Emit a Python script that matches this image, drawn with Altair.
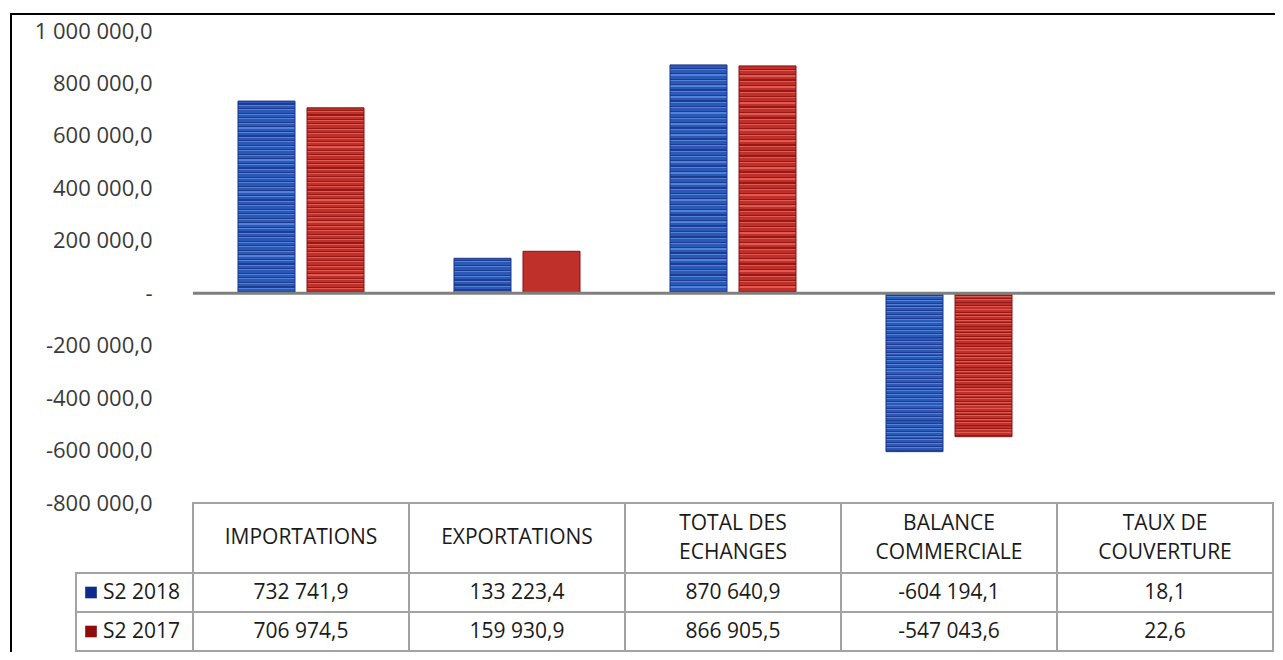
import altair as alt
import pandas as pd

# ---------------- data ----------------
categories = ["IMPORTATIONS", "EXPORTATIONS", "TOTAL DES ECHANGES",
              "BALANCE COMMERCIALE", "TAUX DE COUVERTURE"]
header_labels = ["IMPORTATIONS", "EXPORTATIONS", "TOTAL DES\nECHANGES",
                 "BALANCE\nCOMMERCIALE", "TAUX DE\nCOUVERTURE"]
series_names = ["S2 2018", "S2 2017"]
values_2018 = [732741.9, 133223.4, 870640.9, -604194.1, 18.1]
values_2017 = [706974.5, 159930.9, 866905.5, -547043.6, 22.6]
y_ticks = [-800000, -600000, -400000, -200000, 0, 200000, 400000, 600000, 800000, 1000000]

rows = []
for s, vals in zip(series_names, [values_2018, values_2017]):
    for c, v in zip(categories, vals):
        rows.append({"category": c, "series": s, "value": v})
df = pd.DataFrame(rows)
hdr = pd.DataFrame({"category": categories, "label": header_labels})
ser = pd.DataFrame({"series": series_names})
one = pd.DataFrame({"z": [0]})

# ---------------- layout / style ----------------
W, H = 1265, 639
X_RANGE = [183, 1263]
Y_RANGE = [490, 18]
HDR_TOP, HDR_BOT, HDR_MID = 490, 560, 525
LINE_H = 29
BODY = [560, 638]
FONT = "Open Sans"
TXT = "#1a1a1a"
GRID = "#a3a3a3"
FS = 21


def stripes(mid, dark, light, n=42):
    stops = []
    for i in range(n):
        stops += [
            {"offset": round(i / n, 5), "color": mid},
            {"offset": round((i + 0.5) / n, 5), "color": mid},
            {"offset": round((i + 0.5) / n, 5), "color": dark},
            {"offset": round((i + 0.75) / n, 5), "color": dark},
            {"offset": round((i + 0.75) / n, 5), "color": light},
            {"offset": round((i + 1) / n, 5), "color": light},
        ]
    return {"gradient": "linear", "x1": 0, "y1": 0, "x2": 0, "y2": 1, "stops": stops}


blue_fill = stripes("#2c58b8", "#1e3d92", "#5083d6")
red_fill = stripes("#c0302b", "#951a16", "#e05a52")

x_enc = alt.X("category:N",
              scale=alt.Scale(domain=categories, range=X_RANGE,
                              paddingInner=0, paddingOuter=0),
              axis=None)
xoff = alt.XOffset("series:N",
                   scale=alt.Scale(domain=series_names,
                                   paddingInner=0.1739, paddingOuter=0.652))
y_scale = alt.Scale(domain=[-800000, 1000000], range=Y_RANGE, nice=False, zero=False)

y_axis = alt.Axis(values=y_ticks, format=",.1f",
                  labelExpr="datum.value == 0 ? '-\u00a0\u00a0' : datum.label",
                  grid=False, domain=False, ticks=False, labelPadding=0,
                  offset=-142, labelFontSize=22, labelFont=FONT,
                  labelColor="#3a3a3a", title=None)


def bars(series, fill, stroke, axis):
    return (alt.Chart(df)
            .transform_filter(alt.datum.series == series)
            .mark_bar(fill=fill, stroke=stroke, strokeWidth=1)
            .encode(x=x_enc, xOffset=xoff,
                    y=alt.Y("value:Q", scale=y_scale, axis=axis),
                    y2=alt.datum(0)))


bars_2018 = bars("S2 2018", blue_fill, "#1a3485", y_axis)
bars_2017 = bars("S2 2017", red_fill, "#861310", None)

zero_rule = alt.Chart(one).mark_rule(color="#7f7f7f", strokeWidth=3).encode(
    y=alt.Y("z:Q", scale=y_scale, axis=None),
    x=alt.value(X_RANGE[0]), x2=alt.value(W))

# table
row_scale = alt.Scale(domain=series_names, range=BODY, paddingInner=0, paddingOuter=0)

hdr_cells = alt.Chart(hdr).mark_rect(fill="white", stroke=GRID, strokeWidth=2).encode(
    x=x_enc, y=alt.value(HDR_TOP), y2=alt.value(HDR_BOT))

hdr_text_1 = (alt.Chart(hdr)
              .transform_filter("indexof(datum.label, '\\n') < 0")
              .mark_text(fontSize=FS, font=FONT, color=TXT, baseline="middle")
              .encode(x=x_enc, y=alt.value(HDR_MID), text="label:N"))
hdr_text_2 = (alt.Chart(hdr)
              .transform_filter("indexof(datum.label, '\\n') >= 0")
              .mark_text(lineBreak="\n", lineHeight=LINE_H, fontSize=FS, font=FONT,
                         color=TXT, baseline="middle")
              .encode(x=x_enc, y=alt.value(HDR_MID - LINE_H / 2), text="label:N"))

body_cells = alt.Chart(df).mark_rect(fill="white", stroke=GRID, strokeWidth=2).encode(
    x=x_enc, y=alt.Y("series:N", scale=row_scale, axis=None))
body_text = alt.Chart(df).mark_text(fontSize=FS, font=FONT, color=TXT,
                                    baseline="middle").encode(
    x=x_enc, y=alt.Y("series:N", scale=row_scale, axis=None),
    text=alt.Text("value:Q", format=",.1f"))

rowhdr_cells = alt.Chart(ser).mark_rect(fill="white", stroke=GRID, strokeWidth=2).encode(
    x=alt.value(66), x2=alt.value(X_RANGE[0]),
    y=alt.Y("series:N", scale=row_scale, axis=None))
swatch = alt.Chart(ser).mark_square(size=135, opacity=1).encode(
    x=alt.value(81),
    y=alt.Y("series:N", scale=row_scale, axis=None),
    color=alt.Color("series:N",
                    scale=alt.Scale(domain=series_names, range=["#0d2a8c", "#8e0c0c"]),
                    legend=None))
row_text = alt.Chart(ser).mark_text(align="left", fontSize=FS, font=FONT, color=TXT,
                                    baseline="middle").encode(
    x=alt.value(93),
    y=alt.Y("series:N", scale=row_scale, axis=None),
    text="series:N")

frame_left = alt.Chart(one).mark_rule(color="black", strokeWidth=2).encode(
    x=alt.value(1), y=alt.value(0), y2=alt.value(H))
frame_top = alt.Chart(one).mark_rule(color="black", strokeWidth=2).encode(
    y=alt.value(1), x=alt.value(0), x2=alt.value(W))

chart = (alt.layer(bars_2018, bars_2017, zero_rule,
                   hdr_cells, hdr_text_1, hdr_text_2, body_cells, body_text,
                   rowhdr_cells, swatch, row_text, frame_left, frame_top)
         .resolve_scale(y="independent")
         .properties(width=W, height=H,
                     autosize=alt.AutoSizeParams(type="none"),
                     padding={"left": 2, "top": 5, "right": 0, "bottom": 0},
                     background="white")
         .configure(locale={"number": {"decimal": ",", "thousands": " ",
                                       "grouping": [3], "currency": ["", " €"],
                                       "minus": "-"}})
         .configure_view(stroke=None))

chart.save("out.html", embed_options={"renderer": "svg", "actions": False})
